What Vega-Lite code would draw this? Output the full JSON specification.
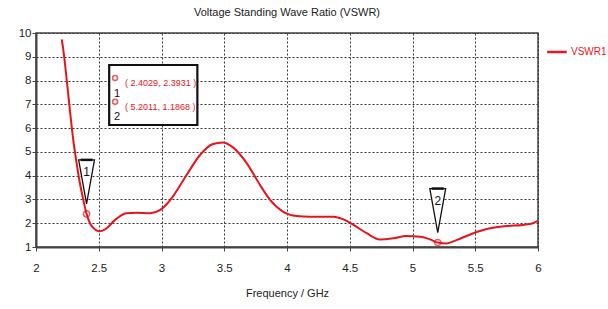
{
  "$schema": "https://vega.github.io/schema/vega-lite/v6.json",
  "width": 502,
  "height": 214,
  "autosize": {"type": "none"},
  "padding": {"left": 36, "top": 33, "right": 70, "bottom": 62},
  "background": "white",
  "title": {
    "text": "Voltage Standing Wave Ratio (VSWR)",
    "font": "Liberation Sans",
    "fontSize": 11,
    "fontWeight": "normal",
    "color": "#222",
    "anchor": "middle",
    "offset": 9
  },
  "config": {
    "view": {"stroke": "#444", "strokeWidth": 1.5},
    "font": "Liberation Sans",
    "axis": {
      "labelFont": "Liberation Sans",
      "labelFontSize": 11.5,
      "labelColor": "#222",
      "labelOverlap": false,
      "labelFlush": false,
      "titleFont": "Liberation Sans",
      "titleFontSize": 11,
      "titleFontWeight": "normal",
      "titleColor": "#222",
      "gridColor": "#333",
      "gridDash": [2, 2],
      "gridWidth": 1,
      "gridOpacity": 1,
      "domainColor": "#444",
      "domainWidth": 2,
      "tickColor": "#444",
      "tickSize": 4
    },
    "axisX": {"tickCount": 8, "format": ".1~f", "labelPadding": 11, "titlePadding": 14},
    "axisY": {"tickCount": 10, "format": ".1~f", "labelPadding": 1}
  },
  "datasets": {
    "curve": [
      {"freq": 2.205, "vswr": 9.73},
      {"freq": 2.218, "vswr": 9.28},
      {"freq": 2.245, "vswr": 8.02},
      {"freq": 2.27, "vswr": 6.76},
      {"freq": 2.297, "vswr": 5.5},
      {"freq": 2.324, "vswr": 4.52},
      {"freq": 2.35, "vswr": 3.68},
      {"freq": 2.377, "vswr": 2.98},
      {"freq": 2.4029, "vswr": 2.3931},
      {"freq": 2.43, "vswr": 2.0},
      {"freq": 2.47, "vswr": 1.74},
      {"freq": 2.505, "vswr": 1.66},
      {"freq": 2.563, "vswr": 1.79},
      {"freq": 2.63, "vswr": 2.14},
      {"freq": 2.72, "vswr": 2.42},
      {"freq": 2.8, "vswr": 2.44},
      {"freq": 2.91, "vswr": 2.42},
      {"freq": 2.99, "vswr": 2.56},
      {"freq": 3.05, "vswr": 2.85},
      {"freq": 3.09, "vswr": 3.12},
      {"freq": 3.2, "vswr": 4.03},
      {"freq": 3.307, "vswr": 4.87},
      {"freq": 3.41, "vswr": 5.33},
      {"freq": 3.49, "vswr": 5.4},
      {"freq": 3.57, "vswr": 5.19},
      {"freq": 3.68, "vswr": 4.52},
      {"freq": 3.785, "vswr": 3.61},
      {"freq": 3.865, "vswr": 2.98},
      {"freq": 3.97, "vswr": 2.48},
      {"freq": 4.077, "vswr": 2.3},
      {"freq": 4.18, "vswr": 2.27},
      {"freq": 4.37, "vswr": 2.27},
      {"freq": 4.45, "vswr": 2.16},
      {"freq": 4.53, "vswr": 1.93},
      {"freq": 4.635, "vswr": 1.58},
      {"freq": 4.74, "vswr": 1.32},
      {"freq": 4.85, "vswr": 1.37},
      {"freq": 4.95, "vswr": 1.46},
      {"freq": 5.06, "vswr": 1.43},
      {"freq": 5.14, "vswr": 1.32},
      {"freq": 5.2011, "vswr": 1.1868},
      {"freq": 5.27, "vswr": 1.15},
      {"freq": 5.35, "vswr": 1.29},
      {"freq": 5.485, "vswr": 1.58},
      {"freq": 5.62, "vswr": 1.79},
      {"freq": 5.75, "vswr": 1.88},
      {"freq": 5.88, "vswr": 1.93},
      {"freq": 5.96, "vswr": 2.0},
      {"freq": 6.0, "vswr": 2.11}
    ],
    "markers": [
      {"marker": "1", "freq": 2.4029, "vswr": 2.3931, "label": "( 2.4029, 2.3931 )"},
      {"marker": "2", "freq": 5.2011, "vswr": 1.1868, "label": "( 5.2011, 1.1868 )"}
    ]
  },
  "layer": [
    {
      "data": {"name": "curve"},
      "transform": [{"calculate": "'VSWR1'", "as": "series"}],
      "mark": {"type": "line", "interpolate": "monotone", "strokeWidth": 2, "clip": true},
      "encoding": {
        "x": {
          "field": "freq", "type": "quantitative",
          "scale": {"domain": [2, 6], "nice": false},
          "axis": {"title": "Frequency / GHz"}
        },
        "y": {
          "field": "vswr", "type": "quantitative",
          "scale": {"domain": [1, 10], "nice": false},
          "axis": {"title": null}
        },
        "color": {
          "field": "series", "type": "nominal",
          "scale": {"range": ["#e8141c"]},
          "legend": {
            "title": null, "orient": "none", "legendX": 510, "legendY": 8,
            "symbolType": "stroke", "symbolSize": 380, "symbolStrokeWidth": 2.5,
            "labelColor": "#e8141c", "labelFontSize": 10, "labelOffset": 3,
            "labelFont": "Liberation Sans"
          }
        }
      }
    },
    {
      "data": {"name": "markers"},
      "mark": {"type": "rect", "fill": "white", "stroke": "#111", "strokeWidth": 2},
      "encoding": {
        "x": {"datum": 2.584, "type": "quantitative"},
        "x2": {"datum": 3.285},
        "y": {"datum": 8.65, "type": "quantitative"},
        "y2": {"datum": 6.13}
      }
    },
    {
      "data": {"name": "markers"},
      "transform": [{"filter": "datum.marker == '1'"}],
      "layer": [
        {
          "mark": {"type": "text", "align": "left", "baseline": "middle", "color": "#e8141c", "fontSize": 9, "font": "Liberation Sans"},
          "encoding": {"x": {"datum": 2.71, "type": "quantitative"}, "y": {"datum": 7.88, "type": "quantitative"}, "text": {"field": "label"}}
        },
        {
          "mark": {"type": "point", "shape": "circle", "filled": false, "color": "#e8141c", "size": 25, "strokeWidth": 1.5},
          "encoding": {"x": {"datum": 2.63, "type": "quantitative"}, "y": {"datum": 8.11, "type": "quantitative"}}
        },
        {
          "mark": {"type": "text", "align": "center", "baseline": "middle", "color": "#111", "fontSize": 11},
          "encoding": {"x": {"datum": 2.645, "type": "quantitative"}, "y": {"datum": 7.45, "type": "quantitative"}, "text": {"field": "marker"}}
        }
      ]
    },
    {
      "data": {"name": "markers"},
      "transform": [{"filter": "datum.marker == '2'"}],
      "layer": [
        {
          "mark": {"type": "text", "align": "left", "baseline": "middle", "color": "#e8141c", "fontSize": 9, "font": "Liberation Sans"},
          "encoding": {"x": {"datum": 2.71, "type": "quantitative"}, "y": {"datum": 6.9, "type": "quantitative"}, "text": {"field": "label"}}
        },
        {
          "mark": {"type": "point", "shape": "circle", "filled": false, "color": "#e8141c", "size": 25, "strokeWidth": 1.5},
          "encoding": {"x": {"datum": 2.63, "type": "quantitative"}, "y": {"datum": 7.11, "type": "quantitative"}}
        },
        {
          "mark": {"type": "text", "align": "center", "baseline": "middle", "color": "#111", "fontSize": 11},
          "encoding": {"x": {"datum": 2.645, "type": "quantitative"}, "y": {"datum": 6.47, "type": "quantitative"}, "text": {"field": "marker"}}
        }
      ]
    },
    {
      "data": {"name": "markers"},
      "mark": {"type": "point", "shape": "circle", "filled": false, "color": "#e8141c", "size": 40, "strokeWidth": 1.5},
      "encoding": {"x": {"field": "freq", "type": "quantitative"}, "y": {"field": "vswr", "type": "quantitative"}}
    },
    {
      "data": {"name": "markers"},
      "mark": {"type": "point", "shape": "M-0.36,-1L0.36,-1L0,1Z", "filled": true, "fill": "white", "stroke": "#111", "strokeWidth": 1.3, "size": 1936, "yOffset": -32, "opacity": 1},
      "encoding": {"x": {"field": "freq", "type": "quantitative"}, "y": {"field": "vswr", "type": "quantitative"}}
    },
    {
      "data": {"name": "markers"},
      "mark": {"type": "rule", "stroke": "#111", "strokeWidth": 2.5, "xOffset": -6, "x2Offset": 6, "yOffset": -54, "y2Offset": -54},
      "encoding": {"x": {"field": "freq", "type": "quantitative"}, "x2": {"field": "freq"}, "y": {"field": "vswr", "type": "quantitative"}, "y2": {"field": "vswr"}}
    },
    {
      "data": {"name": "markers"},
      "mark": {"type": "text", "align": "center", "baseline": "middle", "color": "#111", "fontSize": 12, "yOffset": -42},
      "encoding": {"x": {"field": "freq", "type": "quantitative"}, "y": {"field": "vswr", "type": "quantitative"}, "text": {"field": "marker"}}
    }
  ]
}
